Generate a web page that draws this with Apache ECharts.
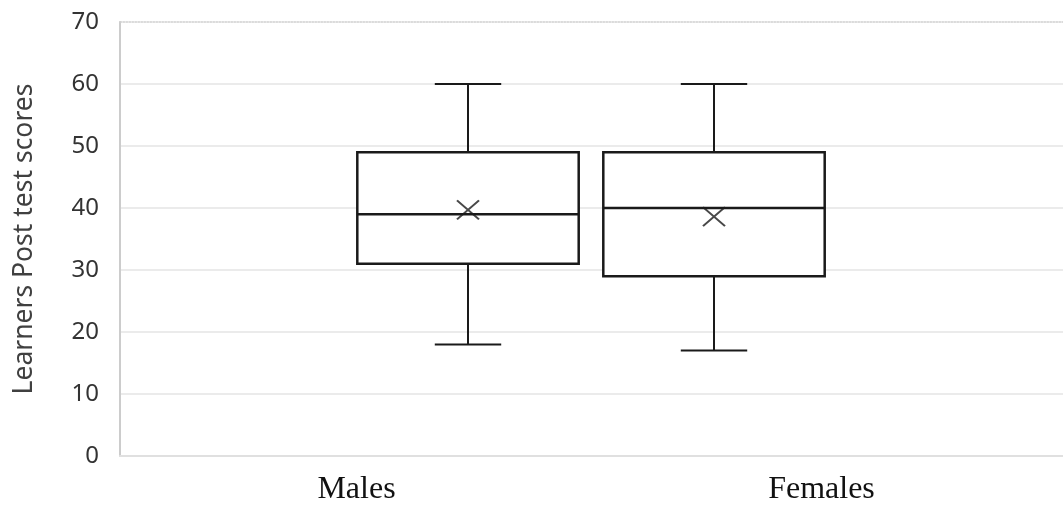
<!DOCTYPE html>
<html>
<head>
<meta charset="utf-8">
<script src="https://cdn.jsdelivr.net/npm/echarts@6/dist/echarts.min.js"></script>
<style>
html,body{margin:0;padding:0;background:#fff;}
#chart{width:1063px;height:506px;}
</style>
</head>
<body>
<div id="chart"></div>
<script>
const categories = ['Males', 'Females'];
const minValues = [18, 17];
const q1Values = [31, 29];
const medianValues = [39, 40];
const q3Values = [49, 49];
const maxValues = [60, 60];
const meanValues = [39.7, 38.6];
const yMin = 0, yMax = 70, yInterval = 10;
const yTitle = 'Learners Post test scores';

const boxData = categories.map((c, i) => [i, minValues[i], q1Values[i], medianValues[i], q3Values[i], maxValues[i]]);
const meanData = categories.map((c, i) => [i, meanValues[i]]);

const tickCount = (yMax - yMin) / yInterval + 1;
const splitColors = [];
for (let k = 0; k < tickCount; k++) splitColors.push(k === tickCount - 1 ? 'rgba(0,0,0,0)' : '#ebebeb');

const chart = echarts.init(document.getElementById('chart'), null, {renderer: 'canvas'});
const lineColor = '#1a1a1a';

chart.setOption({
  animation: false,
  backgroundColor: '#fff',
  grid: [
    {left: 120, right: 0, top: 22, bottom: 50},
    {left: 345, right: 226, top: 22, bottom: 50},
    {left: 124, right: 9, top: 22, bottom: 50}
  ],
  xAxis: [
    {gridIndex: 0, type: 'category', data: categories, axisLine: {show: true, onZero: false, lineStyle: {color: '#e0e0e0', width: 2}},
     axisTick: {show: false}, axisLabel: {show: false}, splitLine: {show: false}},
    {gridIndex: 0, type: 'category', position: 'top', data: categories, axisLine: {show: true, onZero: false, lineStyle: {color: '#cfcfcf', width: 1.5, type: 'dotted'}},
     axisTick: {show: false}, axisLabel: {show: false}, splitLine: {show: false}},
    {gridIndex: 1, type: 'category', data: categories, show: false},
    {gridIndex: 2, type: 'category', data: categories, axisLine: {show: false}, axisTick: {show: false},
     axisLabel: {show: true, margin: 20, color: '#111111', fontFamily: 'Liberation Serif', fontSize: 32}}
  ],
  yAxis: [
    {gridIndex: 0, type: 'value', min: yMin, max: yMax, interval: yInterval,
     name: yTitle, nameLocation: 'middle', nameGap: 82,
     nameTextStyle: {fontFamily: 'Noto Sans', fontSize: 26.5, color: '#404040'},
     axisLine: {show: true, lineStyle: {color: '#cccccc', width: 2}},
     axisTick: {show: false},
     axisLabel: {margin: 21, color: '#333333', fontFamily: 'Noto Sans', fontSize: 24},
     splitLine: {show: true, lineStyle: {color: splitColors, width: 2}}},
    {gridIndex: 1, type: 'value', min: yMin, max: yMax, interval: yInterval, show: false, splitLine: {show: false}},
    {gridIndex: 2, type: 'value', min: yMin, max: yMax, interval: yInterval, show: false, splitLine: {show: false}}
  ],
  series: [
    {
      type: 'custom',
      xAxisIndex: 2, yAxisIndex: 1,
      data: boxData,
      encode: {x: 0, y: [1, 2, 3, 4, 5]},
      z: 3,
      renderItem: function (params, api) {
        const i = api.value(0);
        const pMin = api.coord([i, api.value(1)]);
        const pQ1 = api.coord([i, api.value(2)]);
        const pMed = api.coord([i, api.value(3)]);
        const pQ3 = api.coord([i, api.value(4)]);
        const pMax = api.coord([i, api.value(5)]);
        const band = api.size([1, 0])[0];
        const bw = band * 0.9;
        const cw = band * 0.27;
        const x = pMed[0];
        const st = {stroke: lineColor, lineWidth: 2};
        return {
          type: 'group',
          children: [
            {type: 'line', shape: {x1: x, y1: pQ3[1], x2: x, y2: pMax[1]}, style: st},
            {type: 'line', shape: {x1: x, y1: pQ1[1], x2: x, y2: pMin[1]}, style: st},
            {type: 'line', shape: {x1: x - cw / 2, y1: pMax[1], x2: x + cw / 2, y2: pMax[1]}, style: st},
            {type: 'line', shape: {x1: x - cw / 2, y1: pMin[1], x2: x + cw / 2, y2: pMin[1]}, style: st},
            {type: 'rect', shape: {x: x - bw / 2, y: pQ3[1], width: bw, height: pQ1[1] - pQ3[1]},
             style: {fill: '#ffffff', stroke: lineColor, lineWidth: 2.5}},
            {type: 'line', shape: {x1: x - bw / 2, y1: pMed[1], x2: x + bw / 2, y2: pMed[1]}, style: {stroke: lineColor, lineWidth: 2.5}}
          ]
        };
      }
    },
    {
      type: 'scatter',
      xAxisIndex: 2, yAxisIndex: 1,
      data: meanData,
      z: 5,
      symbol: 'path://M0,0L10,10M10,0L0,10',
      symbolSize: [22, 19],
      itemStyle: {color: 'rgba(0,0,0,0)', borderColor: '#1a1a1a', borderWidth: 2}
    }
  ]
});
</script>
</body>
</html>
